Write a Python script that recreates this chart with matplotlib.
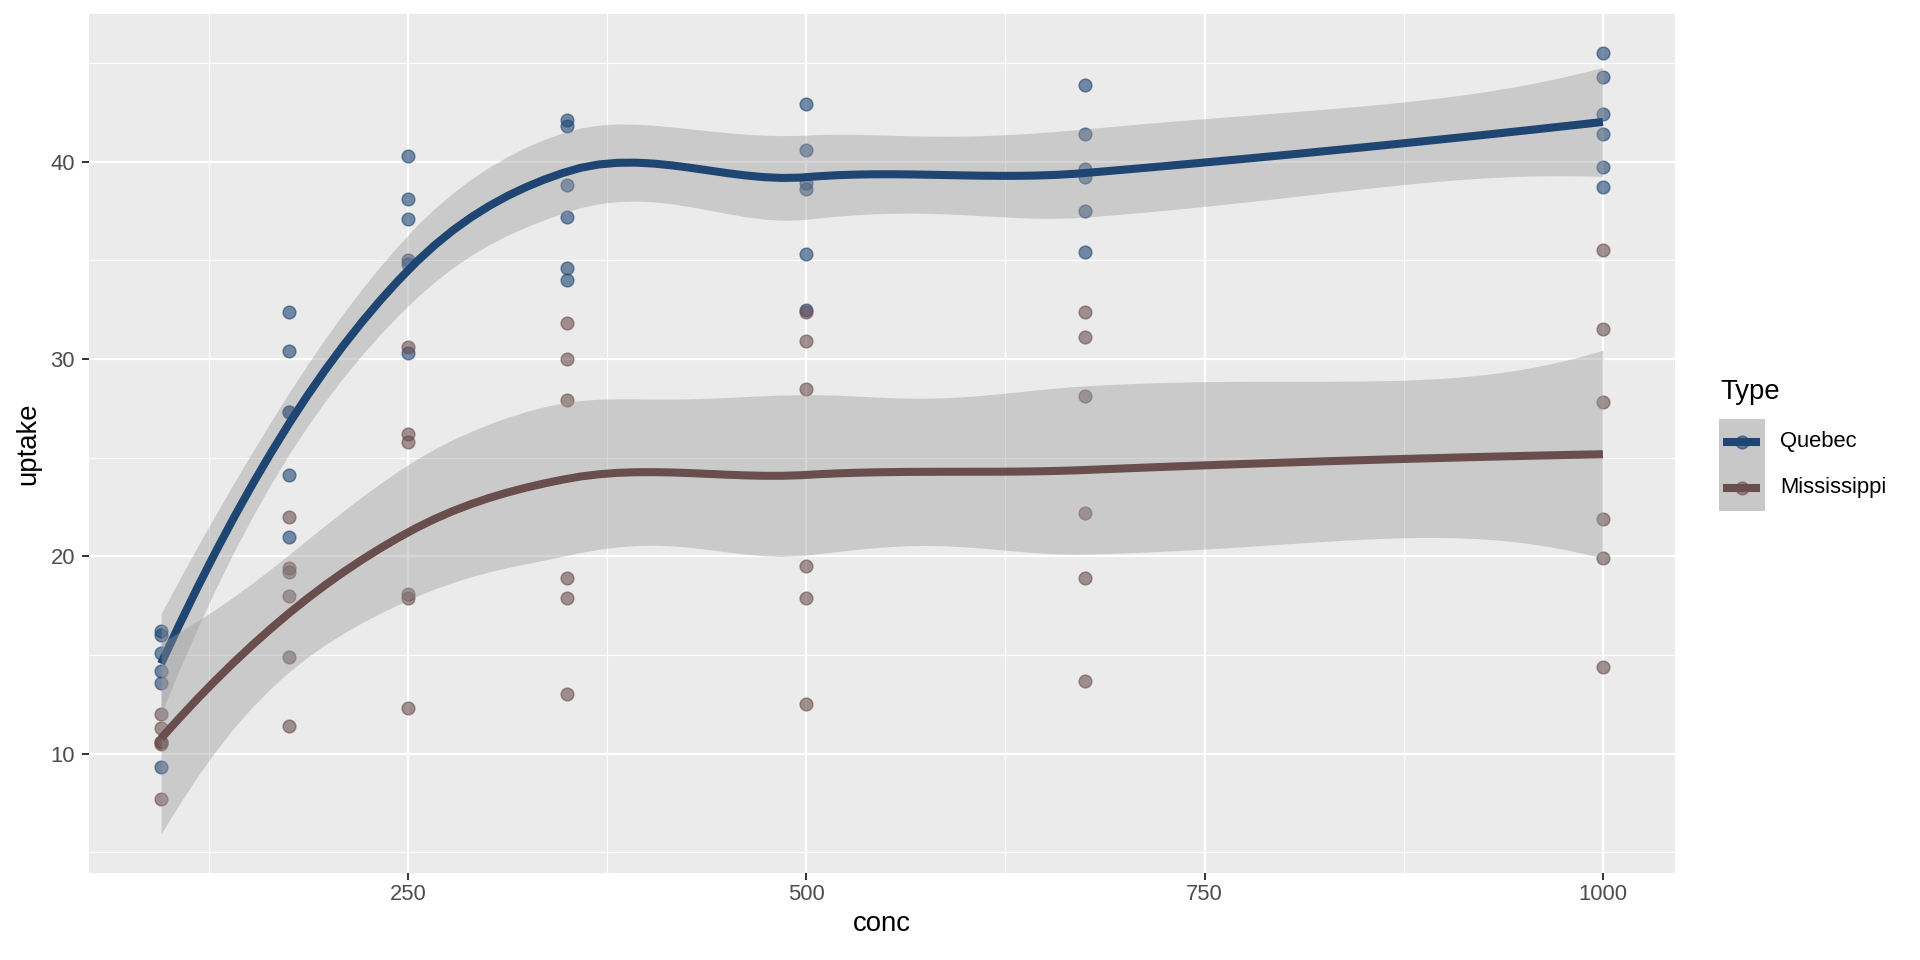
import numpy as np
import matplotlib
matplotlib.use("Agg")
import matplotlib.pyplot as plt
from matplotlib.patches import Rectangle
from matplotlib.lines import Line2D

# CO2 data: uptake by concentration, 6 plants per type
conc = [95, 175, 250, 350, 500, 675, 1000]
quebec = [
    [16.0, 30.4, 34.8, 37.2, 35.3, 39.2, 39.7],
    [13.6, 27.3, 37.1, 41.8, 40.6, 41.4, 44.3],
    [16.2, 32.4, 40.3, 42.1, 42.9, 43.9, 45.5],
    [14.2, 24.1, 30.3, 34.6, 32.5, 35.4, 38.7],
    [9.3, 27.3, 35.0, 38.8, 38.6, 37.5, 42.4],
    [15.1, 21.0, 38.1, 34.0, 38.9, 39.6, 41.4],
]
mississippi = [
    [10.6, 19.2, 26.2, 30.0, 30.9, 32.4, 35.5],
    [12.0, 22.0, 30.6, 31.8, 32.4, 31.1, 31.5],
    [11.3, 19.4, 25.8, 27.9, 28.5, 28.1, 27.8],
    [10.5, 14.9, 18.1, 18.9, 19.5, 22.2, 21.9],
    [7.7, 11.4, 12.3, 13.0, 12.5, 13.7, 14.4],
    [10.6, 18.0, 17.9, 17.9, 17.9, 18.9, 19.9],
]
types = ["Quebec", "Mississippi"]
colors = {"Quebec": "#1F4573", "Mississippi": "#6A4E4E"}

SPAN = 0.75


def local_rows(x, x0):
    # operator rows for value and slope of a local quadratic fit at x0
    n = len(x)
    q = int(np.floor(n * SPAN))
    d = np.abs(x - x0)
    h = np.sort(d)[q - 1]
    u = d / h
    w = np.where(u < 1, (1 - u ** 3) ** 3, 0.0)
    X = np.column_stack([np.ones(n), x - x0, (x - x0) ** 2])
    A = X.T @ (X * w[:, None])
    B = np.linalg.solve(A, (X * w[:, None]).T)
    return B[0], B[1]


def kd_vertices(x):
    # 1-d version of the loess kd tree (cell = 0.2)
    xs = np.sort(x)
    n = len(xs)
    fc = int(np.floor(n * SPAN * 0.2))
    mu = 0.005 * (xs[-1] - xs[0])
    verts = {xs[0] - mu, xs[-1] + mu}
    stack = [(0, n - 1, xs[0] - mu, xs[-1] + mu)]
    while stack:
        l, u, a, b = stack.pop()
        if u - l + 1 <= fc:
            continue
        m = (l + u + 2) // 2 - 1
        off = 0
        while l <= m + off < u:
            if xs[m + off] == xs[m + off + 1]:
                off = -off
                if off >= 0:
                    off += 1
            else:
                m = m + off
                break
        v = xs[m]
        if v == a or v == b:
            continue
        verts.add(v)
        stack += [(l, m, a, v), (m + 1, u, v, b)]
    return np.array(sorted(verts))


def loess_matrix(x, xnew):
    # vertex fits + cubic hermite interpolation (surface = "interpolate")
    verts = kd_vertices(x)
    vals, slopes = zip(*[local_rows(x, v) for v in verts])
    rows = []
    for x0 in xnew:
        j = min(np.searchsorted(verts, x0, side="right") - 1, len(verts) - 2)
        a, b = verts[j], verts[j + 1]
        hh = b - a
        t = (x0 - a) / hh
        h00 = 2 * t ** 3 - 3 * t ** 2 + 1
        h10 = t ** 3 - 2 * t ** 2 + t
        h01 = -2 * t ** 3 + 3 * t ** 2
        h11 = t ** 3 - t ** 2
        rows.append(h00 * vals[j] + h10 * hh * slopes[j]
                    + h01 * vals[j + 1] + h11 * hh * slopes[j + 1])
    return np.array(rows)


def t_quantile(df):
    # Cornish-Fisher expansion, 97.5% quantile of student t
    z = 1.959963984540054
    g1 = (z ** 3 + z) / 4
    g2 = (5 * z ** 5 + 16 * z ** 3 + 3 * z) / 96
    g3 = (3 * z ** 7 + 19 * z ** 5 + 17 * z ** 3 - 15 * z) / 384
    return z + g1 / df + g2 / df ** 2 + g3 / df ** 3


def smooth(x, y):
    xs = np.linspace(x.min(), x.max(), 80)
    L = loess_matrix(x, x)
    R = np.eye(len(x)) - L
    RR = R.T @ R
    d1 = np.trace(RR)
    d2 = np.trace(RR @ RR)
    res = y - L @ y
    sigma = np.sqrt(np.sum(res ** 2) / d1)
    Ln = loess_matrix(x, xs)
    fit = Ln @ y
    se = sigma * np.sqrt(np.sum(Ln ** 2, axis=1))
    t = t_quantile(d1 ** 2 / d2)
    return xs, fit, fit - t * se, fit + t * se


plt.rcParams["font.family"] = ["Liberation Sans", "DejaVu Sans"]
fig = plt.figure(figsize=(19.2, 9.6), dpi=100)
ax = fig.add_axes([89 / 1920, 87 / 960, 1586 / 1920, 859 / 960])
ax.set_facecolor("#EBEBEB")

data = {"Quebec": quebec, "Mississippi": mississippi}
ymin, ymax = [], []
fits = {}
for t in types:
    x = np.tile(conc, len(data[t])).astype(float)
    y = np.array(data[t]).ravel()
    ax.scatter(x, y, s=9.2 ** 2, color=colors[t], alpha=0.6, linewidths=1.0,
               edgecolors=colors[t], zorder=3)
    fits[t] = smooth(x, y)
    ymin += [y.min(), fits[t][2].min()]
    ymax += [y.max(), fits[t][3].max()]

for t in types:
    xs, fit, lo, hi = fits[t]
    ax.fill_between(xs, lo, hi, color="#999999", alpha=0.4, linewidth=0, zorder=4)
    ax.plot(xs, fit, color=colors[t], linewidth=5.8, zorder=4,
            solid_capstyle="butt")

x0, x1 = min(conc), max(conc)
ax.set_xlim(x0 - 0.05 * (x1 - x0), x1 + 0.05 * (x1 - x0))
lo_, hi_ = min(ymin), max(ymax)
ax.set_ylim(lo_ - 0.05 * (hi_ - lo_), hi_ + 0.05 * (hi_ - lo_))

ax.set_xticks([250, 500, 750, 1000])
ax.set_xticks([125, 375, 625, 875], minor=True)
ax.set_yticks([10, 20, 30, 40])
ax.set_yticks([5, 15, 25, 35, 45], minor=True)
ax.grid(which="major", color="white", linewidth=1.6)
ax.grid(which="minor", color="white", linewidth=0.8)
ax.set_axisbelow(True)
for s in ax.spines.values():
    s.set_visible(False)
ax.tick_params(which="major", length=5, width=1.4, color="#333333",
               labelsize=15.8, labelcolor="#4D4D4D")
ax.tick_params(axis="x", pad=3)
ax.tick_params(axis="y", pad=5)
ax.tick_params(which="minor", length=0)
ax.set_xlabel("conc", fontsize=19.8, labelpad=4)
ax.set_ylabel("uptake", fontsize=19.8, labelpad=7)


# legend
def fx(px):
    return px / 1920


def fy(py):
    return 1 - py / 960


fig.text(fx(1720), fy(392), "Type", fontsize=19.8, va="center", ha="left")
fig.add_artist(Rectangle((fx(1719), fy(511)), fx(46), 92 / 960,
                         transform=fig.transFigure, facecolor="#C8C8C8",
                         edgecolor="none"))
for i, t in enumerate(types):
    yk = 442 + 46 * i
    fig.add_artist(Line2D([fx(1723), fx(1760)], [fy(yk), fy(yk)],
                          transform=fig.transFigure, color=colors[t],
                          linewidth=5.8, solid_capstyle="butt"))
    fig.add_artist(Line2D([fx(1742)], [fy(yk)], transform=fig.transFigure,
                          marker="o", markersize=9.2, color=colors[t],
                          alpha=0.6, linestyle="none"))
    fig.text(fx(1780), fy(yk), t, fontsize=15.8, va="center", ha="left")

fig.savefig("out.png", dpi=100)
